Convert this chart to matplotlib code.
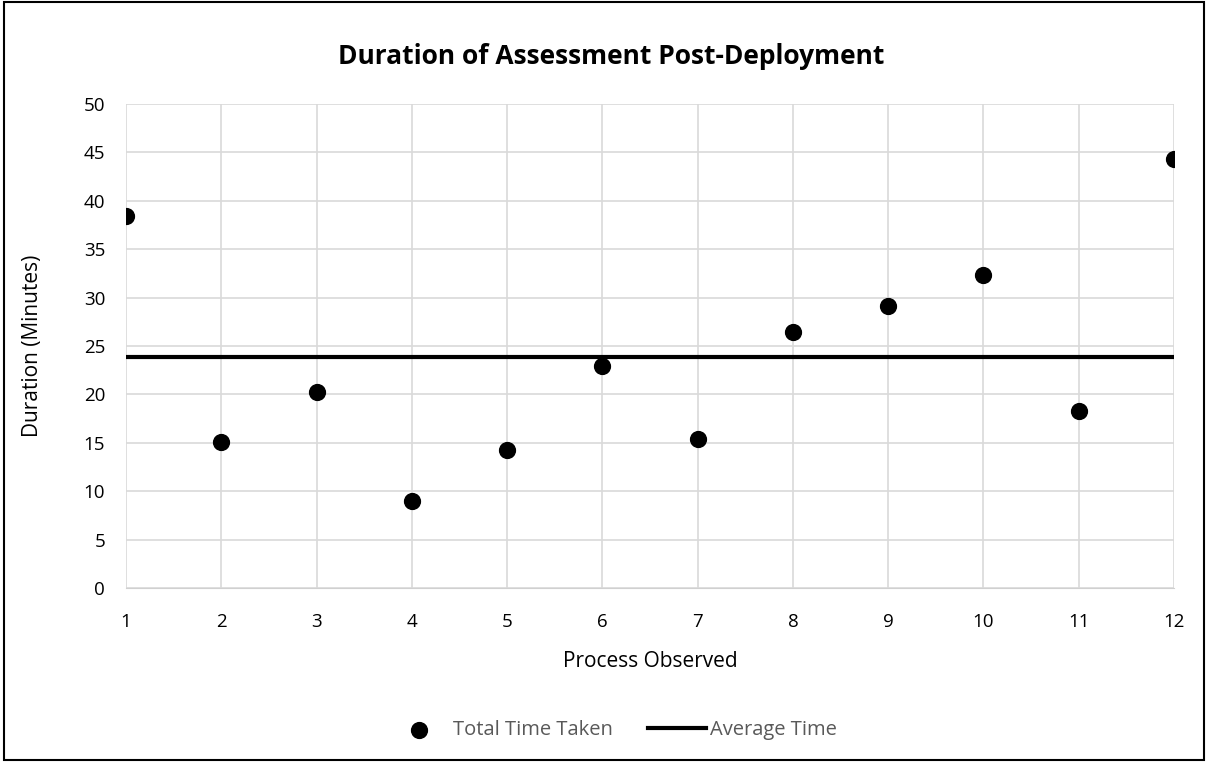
import numpy as np
import matplotlib.pyplot as plt
from matplotlib.patches import Rectangle

# Datos
process = [1, 2, 3, 4, 5, 6, 7, 8, 9, 10, 11, 12]
total_time = [38.4, 15.05, 20.3, 8.95, 14.26, 22.9, 15.43, 26.48, 29.17, 32.33, 18.25, 44.3]
average_time = 23.82
y_ticks = [0, 5, 10, 15, 20, 25, 30, 35, 40, 45, 50]

plt.rcParams['font.family'] = ['Open Sans', 'DejaVu Sans']

fig = plt.figure(figsize=(12.08, 7.62), dpi=100)
ax = fig.add_axes([0.1043, 0.2283, 0.8676, 0.6352])

ax.scatter(process, total_time, s=130, color='black', zorder=3, label='Total Time Taken')
ax.plot([process[0], process[-1]], [average_time, average_time], color='black',
        linewidth=3, zorder=2, label='Average Time')

ax.set_xlim(1, 12)
ax.set_ylim(0, 50)
ax.set_xticks(process)
ax.set_yticks(y_ticks)
ax.grid(True, color='#d9d9d9', linewidth=1.2)
ax.set_axisbelow(True)
ax.tick_params(length=0, labelsize=13.5)
ax.tick_params(axis='x', pad=18)
ax.tick_params(axis='y', pad=15)
for s in ['top', 'right', 'left']:
    ax.spines[s].set_visible(False)
ax.spines['bottom'].set_color('#d0d0d0')

ax.set_xlabel('Process Observed', fontsize=15)
ax.xaxis.set_label_coords(0.538, 0.146, transform=fig.transFigure)
ax.set_ylabel('Duration (Minutes)', fontsize=15)
ax.yaxis.set_label_coords(0.036, 0.546, transform=fig.transFigure)
fig.text(0.506, 0.926, 'Duration of Assessment Post-Deployment', fontsize=19,
         fontweight='bold', ha='center', va='center')

leg = fig.legend(loc='center', bbox_to_anchor=(0.508, 0.042), ncol=2, frameon=False,
                 fontsize=14.5, handlelength=2.9, columnspacing=1.75, handletextpad=0.2,
                 scatterpoints=1, borderpad=0)
for t in leg.get_texts():
    t.set_color('#595959')

fig.patches.append(Rectangle((0.003, 0.003), 0.994, 0.994, transform=fig.transFigure,
                             fill=False, edgecolor='black', linewidth=1.5))

fig.savefig('out.png', dpi=100)
